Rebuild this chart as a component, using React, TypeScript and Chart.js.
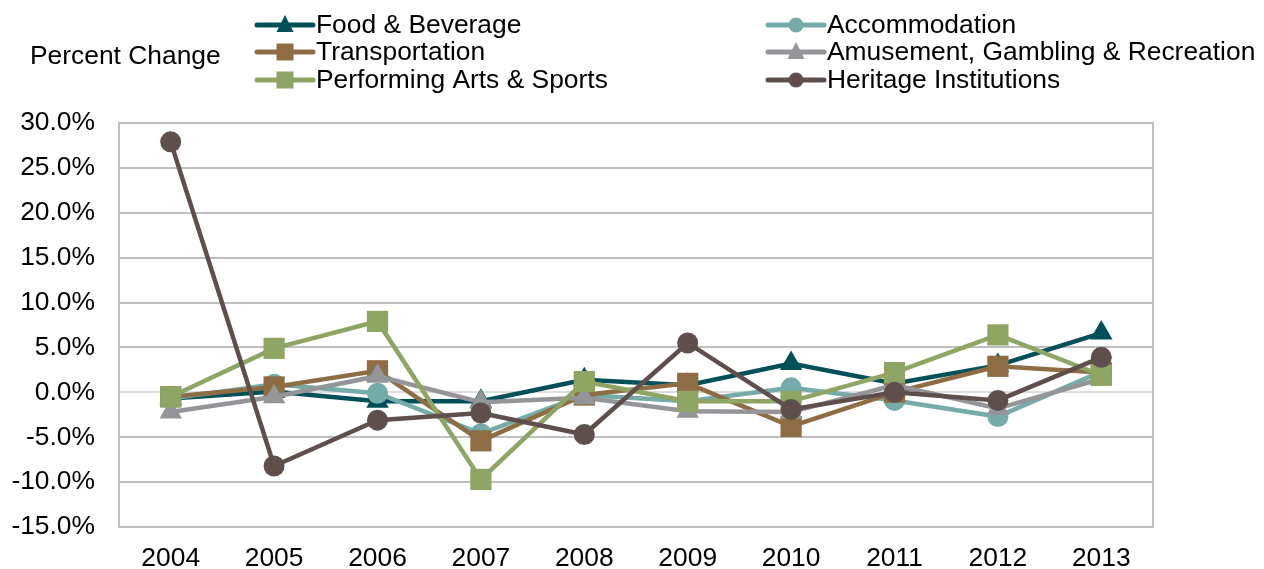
import React, { useEffect, useRef } from "react";
import { Chart, registerables } from "chart.js";

Chart.register(...registerables);

const years = ["2004", "2005", "2006", "2007", "2008", "2009", "2010", "2011", "2012", "2013"];
const foodBeverage = [-0.7, 0.1, -1.0, -1.0, 1.4, 0.8, 3.2, 1.0, 3.0, 6.6];
const accommodation = [-0.7, 0.9, -0.1, -4.6, -0.3, -1.0, 0.5, -0.9, -2.7, 2.3];
const transportation = [-0.5, 0.6, 2.4, -5.4, -0.3, 1.0, -3.8, 0.0, 2.9, 2.2];
const amusement = [-2.2, -0.5, 1.8, -1.1, -0.6, -2.1, -2.2, 0.8, -1.8, 1.5];
const performingArts = [-0.5, 4.9, 7.9, -9.7, 1.2, -1.0, -1.0, 2.2, 6.4, 1.9];
const heritage = [27.9, -8.2, -3.1, -2.3, -4.7, 5.5, -1.9, 0.0, -0.9, 3.9];

const yAxisTitle = "Percent Change";
const yMin = -15;
const yMax = 30;
const yStep = 5;

const FONT = "'Liberation Sans', Arial, sans-serif";
const FONT_SIZE = 26.4;

type Series = { label: string; data: number[]; color: string; style: string; radius: number; col: number; row: number; order: number };

const series: Series[] = [
  { label: "Food & Beverage", data: foodBeverage, color: "#004F59", style: "triangle", radius: 13, col: 0, row: 0, order: 5 },
  { label: "Accommodation", data: accommodation, color: "#75ACA9", style: "circle", radius: 10.5, col: 1, row: 0, order: 4 },
  { label: "Transportation", data: transportation, color: "#8E6D45", style: "rect", radius: 15, col: 0, row: 1, order: 3 },
  { label: "Amusement, Gambling & Recreation", data: amusement, color: "#939598", style: "triangle", radius: 13, col: 1, row: 1, order: 2 },
  { label: "Performing Arts & Sports", data: performingArts, color: "#8EA564", style: "rect", radius: 15, col: 0, row: 2, order: 1 },
  { label: "Heritage Institutions", data: heritage, color: "#5E4F4C", style: "circle", radius: 10.5, col: 1, row: 2, order: 0 },
];

const customPlugin = {
  id: "customDecor",
  beforeDatasetsDraw(chart: any) {
    const { ctx, chartArea } = chart;
    ctx.save();
    ctx.strokeStyle = "#BFBFBF";
    ctx.lineWidth = 2;
    ctx.beginPath();
    ctx.moveTo(chartArea.left, chartArea.top - 1);
    ctx.lineTo(chartArea.left, chartArea.bottom + 1);
    ctx.moveTo(chartArea.right, chartArea.top - 1);
    ctx.lineTo(chartArea.right, chartArea.bottom + 1);
    ctx.stroke();
    ctx.restore();
  },
  afterDraw(chart: any) {
    const { ctx } = chart;
    ctx.save();
    ctx.fillStyle = "#000000";
    ctx.font = `${FONT_SIZE}px ${FONT}`;
    ctx.textBaseline = "middle";
    ctx.textAlign = "left";
    ctx.fillText(yAxisTitle, 30, 57);

    const colX = [257, 768];
    const rowY = [25, 52, 80];
    const lineLen = 56;
    series.forEach((s) => {
      const x0 = colX[s.col];
      const y = rowY[s.row];
      ctx.strokeStyle = s.color;
      ctx.lineWidth = 5;
      ctx.lineCap = "round";
      ctx.beginPath();
      ctx.moveTo(x0, y);
      ctx.lineTo(x0 + lineLen, y);
      ctx.stroke();
      const cx = x0 + lineLen / 2;
      ctx.fillStyle = s.color;
      ctx.beginPath();
      if (s.style === "circle") {
        ctx.arc(cx, y, 7.5, 0, Math.PI * 2);
      } else if (s.style === "rect") {
        ctx.rect(cx - 8.5, y - 8.5, 17, 17);
      } else {
        ctx.moveTo(cx, y - 10);
        ctx.lineTo(cx + 8.5, y + 7);
        ctx.lineTo(cx - 8.5, y + 7);
        ctx.closePath();
      }
      ctx.fill();
      ctx.fillStyle = "#000000";
      ctx.fillText(s.label, x0 + lineLen + 3, y + 1);
    });
    ctx.restore();
  },
};

export default function App() {
  const canvasRef = useRef<HTMLCanvasElement | null>(null);

  useEffect(() => {
    document.body.style.margin = "0";
    const canvas = canvasRef.current;
    if (!canvas) return;
    const chart = new Chart(canvas, {
      type: "line",
      data: {
        labels: years,
        datasets: series.map((s) => ({
          label: s.label,
          data: s.data,
          borderColor: s.color,
          backgroundColor: s.color,
          borderWidth: 4.5,
          pointStyle: s.style as any,
          pointRadius: s.radius,
          pointBorderWidth: 0,
          pointBackgroundColor: s.color,
          pointBorderColor: s.color,
          tension: 0,
          order: s.order,
        })),
      },
      options: {
        responsive: false,
        animation: false,
        devicePixelRatio: 1,
        layout: { padding: { left: 0, top: 123, right: 111, bottom: 0 } },
        plugins: {
          legend: { display: false },
          tooltip: { enabled: false },
          title: { display: false },
        },
        scales: {
          x: {
            type: "category",
            offset: true,
            grid: { display: false, drawTicks: false },
            border: { display: false },
            ticks: {
              color: "#000000",
              font: { family: FONT, size: FONT_SIZE },
              padding: 16,
              maxRotation: 0,
              autoSkip: false,
            },
            afterFit(axis: any) {
              axis.height = 42;
            },
          },
          y: {
            min: yMin,
            max: yMax,
            grid: {
              drawTicks: false,
              lineWidth: 2,
              color: (ctx: any) => (ctx.tick && ctx.tick.value === 0 ? "#DDDDDD" : "#BFBFBF"),
            },
            border: { display: false },
            ticks: {
              stepSize: yStep,
              color: "#000000",
              font: { family: FONT, size: FONT_SIZE },
              padding: 24,
              callback: (v: any) => `${Number(v).toFixed(1)}%`,
            },
            afterFit(axis: any) {
              axis.width = 119;
            },
          },
        },
      },
      plugins: [customPlugin],
    });
    return () => chart.destroy();
  }, []);

  return (
    <div style={{ position: "absolute", left: 0, top: 0, width: 1264, height: 569, background: "#fff" }}>
      <canvas ref={canvasRef} width={1264} height={569} style={{ display: "block" }} />
    </div>
  );
}
